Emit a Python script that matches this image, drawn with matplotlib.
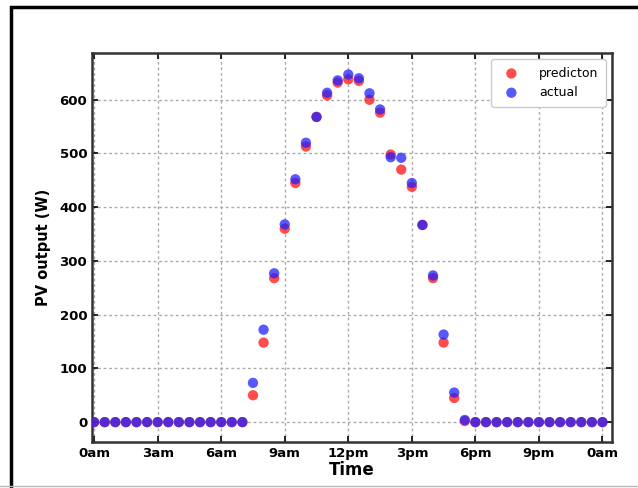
import numpy as np
import matplotlib.pyplot as plt
from matplotlib.patches import Rectangle

# half-hourly samples over one day (hours)
hours = np.arange(0, 24.5, 0.5)

prediction = [0]*15 + [50, 148, 268, 360, 445, 513, 568, 608, 632, 638, 635,
                      600, 576, 498, 470, 438, 367, 268, 148, 45, 2] + [0]*13
actual = [0]*15 + [73, 172, 277, 368, 452, 520, 568, 613, 636, 647, 640,
                  612, 582, 493, 492, 445, 367, 273, 163, 55, 4] + [0]*13

tick_hours = [0, 3, 6, 9, 12, 15, 18, 21, 24]
tick_labels = ['0am', '3am', '6am', '9am', '12pm', '3pm', '6pm', '9pm', '0am']
y_ticks = [0, 100, 200, 300, 400, 500, 600]

fig = plt.figure(figsize=(6.38, 4.88), dpi=100)
ax = fig.add_axes([92/638, 1 - 442/488, 520/638, 389/488])

ax.scatter(hours, prediction, s=55, color='#ff2020', alpha=0.8,
           edgecolors='none', label='predicton', zorder=3)
ax.scatter(hours, actual, s=55, color='#2020ff', alpha=0.75,
           edgecolors='none', label='actual', zorder=4)

ax.set_xlim(-0.1, 24.45)
ax.set_ylim(-37, 687)
ax.set_xticks(tick_hours)
ax.set_xticklabels(tick_labels)
ax.set_yticks(y_ticks)

ax.grid(True, linestyle=(0, (2, 2)), color='#aaaaaa', linewidth=1.0)
ax.tick_params(direction='in', top=True, right=True, length=4, width=1.2,
               labelsize=9.5)
for lab in ax.get_xticklabels() + ax.get_yticklabels():
    lab.set_fontweight('bold')
for sp in ax.spines.values():
    sp.set_linewidth(1.8)
    sp.set_color('#333333')

ax.set_xlabel('Time', fontsize=12, fontweight='bold', labelpad=1)
ax.set_ylabel('PV output (W)', fontsize=10.5, fontweight='bold', labelpad=6)

leg = ax.legend(loc='upper right', fontsize=9, framealpha=1,
                edgecolor='#cccccc', borderpad=0.6, handletextpad=1.2,
                scatterpoints=1)

# outer frame of the figure (top and left edges visible)
fig.patches.append(Rectangle((11/638, -0.1), 1.2, 1 - 7/488 + 0.1,
                             transform=fig.transFigure, fill=False,
                             edgecolor='black', linewidth=2.5))
fig.lines.append(plt.Line2D([0, 1], [2/488, 2/488], transform=fig.transFigure,
                            color='#bbbbbb', linewidth=1))

fig.savefig('out.png', dpi=100)
